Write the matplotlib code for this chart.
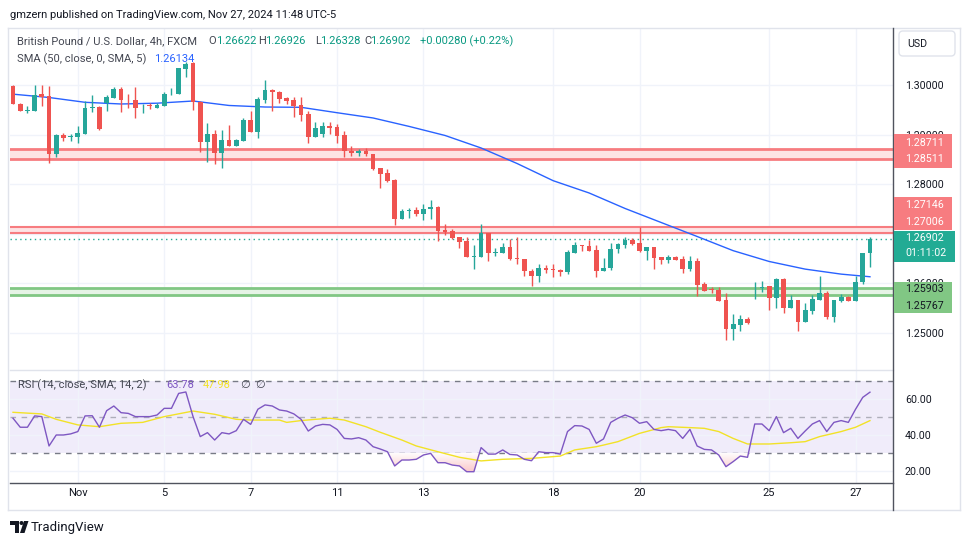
import numpy as np
import matplotlib
matplotlib.use("Agg")
import matplotlib.pyplot as plt
from matplotlib.patches import Rectangle, FancyBboxPatch, Circle, Polygon
from matplotlib.lines import Line2D
from matplotlib.path import Path
from matplotlib.colors import LinearSegmentedColormap
from matplotlib.transforms import Affine2D

plt.rcParams['font.family'] = ['Roboto', 'DejaVu Sans']

# GBP/USD 4h candles (FXCM)
opens = [1.2998, 1.2962, 1.2948, 1.2948, 1.2981, 1.2978, 1.2861, 1.2899, 1.2896, 1.2896,
         1.2902, 1.2953, 1.2956, 1.2964, 1.2973, 1.2991, 1.2972, 1.2970, 1.2959, 1.2959,
         1.2954, 1.2958, 1.2981, 1.2981, 1.3032, 1.3044, 1.2965, 1.2886, 1.2901, 1.2862,
         1.2889, 1.2878, 1.2887, 1.2929, 1.2906, 1.2970, 1.2990, 1.2986, 1.2974, 1.2970,
         1.2960, 1.2942, 1.2896, 1.2901, 1.2917, 1.2915, 1.2899, 1.2867, 1.2862, 1.2867,
         1.2860, 1.2832, 1.2822, 1.2808, 1.2730, 1.2746, 1.2748, 1.2740, 1.2749, 1.2755,
         1.2708, 1.2706, 1.2693, 1.2685, 1.2654, 1.2654, 1.2701, 1.2662, 1.2662, 1.2673,
         1.2652, 1.2649, 1.2625, 1.2614, 1.2632, 1.2629, 1.2627, 1.2622, 1.2662, 1.2677,
         1.2675, 1.2667, 1.2624, 1.2632, 1.2669, 1.2677, 1.2688, 1.2681, 1.2666, 1.2673,
         1.2653, 1.2647, 1.2653, 1.2649, 1.2629, 1.2645, 1.2598, 1.2588, 1.2587, 1.2567,
         1.2508, 1.2516, 1.2528, 1.2590, 1.2591, 1.2594, 1.2571, 1.2609, 1.2551, 1.2567,
         1.2523, 1.2545, 1.2567, 1.2580, 1.2533, 1.2565, 1.2572, 1.2565, 1.2602, 1.26622]
highs = [1.3000, 1.2963, 1.2958, 1.3000, 1.3000, 1.2998, 1.2901, 1.2903, 1.2901, 1.2918,
         1.2967, 1.2980, 1.2957, 1.2980, 1.2996, 1.2995, 1.2982, 1.2995, 1.2961, 1.2963,
         1.2963, 1.2986, 1.2993, 1.3035, 1.3047, 1.3047, 1.2968, 1.2924, 1.2909, 1.2909,
         1.2919, 1.2891, 1.2933, 1.2948, 1.2975, 1.3010, 1.2991, 1.2988, 1.2976, 1.2975,
         1.2976, 1.2948, 1.2925, 1.2926, 1.2925, 1.2921, 1.2907, 1.2877, 1.2870, 1.2872,
         1.2860, 1.2832, 1.2830, 1.2810, 1.2750, 1.2752, 1.2755, 1.2761, 1.2768, 1.2756,
         1.2720, 1.2709, 1.2694, 1.2694, 1.2677, 1.2720, 1.2702, 1.2671, 1.2681, 1.2689,
         1.2694, 1.2649, 1.2630, 1.2640, 1.2637, 1.2639, 1.2630, 1.2667, 1.2684, 1.2677,
         1.2688, 1.2677, 1.2651, 1.2681, 1.2682, 1.2694, 1.2691, 1.2714, 1.2673, 1.2673,
         1.2654, 1.2657, 1.2655, 1.2655, 1.2655, 1.2651, 1.2603, 1.2593, 1.2593, 1.2580,
         1.2538, 1.2536, 1.2532, 1.2603, 1.2605, 1.2594, 1.2610, 1.2610, 1.2577, 1.2567,
         1.2560, 1.2577, 1.2615, 1.2585, 1.2567, 1.2579, 1.2575, 1.2614, 1.2662, 1.26926]
lows = [1.2961, 1.2948, 1.2943, 1.2948, 1.2958, 1.2843, 1.2855, 1.2887, 1.2887, 1.2884,
        1.2902, 1.2945, 1.2909, 1.2948, 1.2973, 1.2946, 1.2953, 1.2934, 1.2943, 1.2952,
        1.2953, 1.2958, 1.2980, 1.2981, 1.3017, 1.2949, 1.2864, 1.2845, 1.2841, 1.2833,
        1.2878, 1.2878, 1.2887, 1.2906, 1.2893, 1.2964, 1.2948, 1.2964, 1.2962, 1.2936,
        1.2927, 1.2884, 1.2896, 1.2896, 1.2901, 1.2884, 1.2855, 1.2857, 1.2857, 1.2857,
        1.2829, 1.2793, 1.2805, 1.2718, 1.2730, 1.2731, 1.2736, 1.2728, 1.2730, 1.2686,
        1.2698, 1.2689, 1.2672, 1.2653, 1.2629, 1.2654, 1.2646, 1.2656, 1.2661, 1.2647,
        1.2639, 1.2614, 1.2595, 1.2603, 1.2620, 1.2612, 1.2614, 1.2618, 1.2662, 1.2665,
        1.2666, 1.2613, 1.2624, 1.2627, 1.2661, 1.2671, 1.2677, 1.2664, 1.2647, 1.2630,
        1.2640, 1.2642, 1.2647, 1.2620, 1.2624, 1.2575, 1.2585, 1.2580, 1.2565, 1.2486,
        1.2485, 1.2505, 1.2518, 1.2569, 1.2582, 1.2546, 1.2551, 1.2541, 1.2551, 1.2505,
        1.2523, 1.2538, 1.2567, 1.2528, 1.2523, 1.2563, 1.2565, 1.2565, 1.2598, 1.26328]
closes = [1.2961, 1.2948, 1.2950, 1.2980, 1.2976, 1.2861, 1.2899, 1.2894, 1.2897, 1.2904,
          1.2954, 1.2956, 1.2911, 1.2976, 1.2992, 1.2970, 1.2971, 1.2954, 1.2960, 1.2958,
          1.2960, 1.2982, 1.2982, 1.3034, 1.3043, 1.2965, 1.2886, 1.2901, 1.2862, 1.2889,
          1.2878, 1.2889, 1.2929, 1.2906, 1.2972, 1.2990, 1.2985, 1.2972, 1.2968, 1.2958,
          1.2940, 1.2896, 1.2913, 1.2917, 1.2914, 1.2898, 1.2866, 1.2862, 1.2867, 1.2860,
          1.2831, 1.2821, 1.2807, 1.2730, 1.2746, 1.2747, 1.2740, 1.2750, 1.2755, 1.2706,
          1.2704, 1.2692, 1.2684, 1.2654, 1.2655, 1.2701, 1.2662, 1.2664, 1.2673, 1.2649,
          1.2650, 1.2624, 1.2614, 1.2632, 1.2627, 1.2628, 1.2622, 1.2663, 1.2677, 1.2676,
          1.2666, 1.2624, 1.2632, 1.2669, 1.2679, 1.2688, 1.2679, 1.2666, 1.2673, 1.2652,
          1.2647, 1.2653, 1.2647, 1.2629, 1.2645, 1.2597, 1.2585, 1.2586, 1.2565, 1.2508,
          1.2518, 1.2528, 1.2520, 1.2591, 1.2592, 1.2571, 1.2609, 1.2551, 1.2567, 1.2523,
          1.2546, 1.2569, 1.2580, 1.2533, 1.2567, 1.2572, 1.2565, 1.2602, 1.26622, 1.26902]

# SMA(50) line sampled every 5 bars
sma_idx = [0, 5, 10, 15, 20, 25, 30, 35, 40, 45, 50, 55, 60, 65, 70, 75, 80, 85, 90, 95,
           100, 105, 110, 115, 119]
sma_val = [1.29815, 1.29748, 1.29651, 1.29617, 1.29633, 1.29677, 1.29587, 1.29556, 1.29550,
           1.29441, 1.29335, 1.29165, 1.28982, 1.28730, 1.28417, 1.28071, 1.27823, 1.27510,
           1.27228, 1.26946, 1.26660, 1.26442, 1.26288, 1.26187, 1.26134]

rsi = [49.3, 44.3, 44.3, 50.6, 50.2, 33.9, 40.0, 40.0, 40.6, 41.9,
       50.6, 50.7, 44.3, 53.5, 56.1, 52.4, 52.0, 50.2, 50.2, 50.2,
       51.1, 54.8, 54.8, 63.1, 63.9, 50.2, 39.1, 41.3, 37.2, 41.3,
       40.6, 42.4, 48.7, 45.9, 54.3, 56.7, 56.1, 53.9, 53.3, 51.7,
       48.7, 42.2, 45.0, 45.9, 45.6, 43.1, 38.1, 37.8, 38.5, 37.2,
       33.5, 32.2, 30.7, 22.8, 26.1, 26.1, 26.5, 28.9, 29.8, 24.6,
       24.6, 23.3, 22.8, 19.6, 19.6, 33.0, 29.4, 29.4, 31.7, 29.2,
       28.9, 26.5, 25.7, 30.7, 30.2, 30.2, 29.4, 41.9, 45.2, 45.0,
       43.1, 35.4, 37.8, 47.0, 49.3, 51.1, 49.6, 46.5, 47.4, 43.1,
       42.4, 43.1, 42.4, 38.1, 43.1, 33.9, 32.0, 31.7, 28.9, 22.4,
       25.2, 28.3, 27.6, 46.1, 46.1, 42.4, 50.2, 41.3, 43.7, 38.1,
       42.2, 46.1, 48.0, 41.9, 47.0, 48.0, 47.0, 54.3, 60.9, 63.78]
rsi_ma_idx = [0, 4, 6, 9, 12, 15, 18, 21, 25, 28, 31, 33, 37, 38, 40, 42, 44, 46, 49, 51,
              54, 56, 59, 62, 65, 68, 72, 76, 78, 81, 82, 84, 87, 90, 91, 94, 96, 98, 100,
              102, 105, 108, 110, 112, 115, 117, 119]
rsi_ma_val = [52.6, 51.7, 48.7, 45.6, 44.6, 46.5, 47.0, 50.2, 53.3, 51.5, 48.7, 48.3, 48.3,
              47.0, 48.0, 48.7, 49.3, 48.3, 44.6, 41.5, 37.2, 33.9, 30.7, 27.6, 25.6, 26.5,
              27.0, 28.3, 31.7, 33.5, 34.4, 36.3, 40.9, 44.1, 44.6, 44.1, 43.7, 41.9, 38.1,
              35.0, 35.0, 35.7, 36.3, 39.1, 41.9, 44.3, 47.98]

day_idx = [9, 21, 33, 45, 57, 75, 87, 105, 117]
day_labels = ['Nov', '5', '7', '11', '13', '18', '20', '25', '27']
price_ticks = [1.25, 1.26, 1.27, 1.28, 1.29, 1.30]
rsi_ticks = [20, 40, 60]

red_zone_top = [1.28511, 1.28711]
red_zone_mid = [1.27006, 1.27146]
green_zone = [1.25767, 1.25903]
last_price = 1.26902
countdown = '01:11:02'

GREEN = '#26a69a'
RED = '#ef5350'
TXT = '#131722'
GREY = '#50535e'

W, H = 970, 545
fig = plt.figure(figsize=(W / 100, H / 100), dpi=100)
fig.patch.set_facecolor('white')
T = Affine2D().scale(1 / W, -1 / H).translate(0, 1) + fig.transFigure  # pixel coords, top-left origin

ax = fig.add_axes([10 / W, 1 - 370 / H, 883 / W, 342 / H])
axr = fig.add_axes([10 / W, 1 - 483 / H, 883 / W, 113 / H])

o = np.array(opens); h = np.array(highs); l = np.array(lows); c = np.array(closes)
x = np.arange(len(o))
cols = np.where(c >= o, GREEN, RED)

# zones
for (lo, hi), lc, fc, lw in [(red_zone_top, '#f77c80', '#fde3e4', 2.0),
                             (red_zone_mid, '#f77c80', '#fde3e4', 1.5),
                             (green_zone, '#81c784', '#e6f4e6', 2.0)]:
    ax.axhspan(lo, hi, color=fc, lw=0, zorder=1)
    ax.axhline(lo, color=lc, lw=lw, zorder=2)
    ax.axhline(hi, color=lc, lw=lw, zorder=2)
ax.axhline(last_price, color='#22ab94', lw=1, ls=(0, (1, 2.5)), zorder=2)

ax.plot(sma_idx, sma_val, color='#2962ff', lw=1.0, zorder=2.5)

ax.vlines(x, l, h, colors=cols, lw=1, zorder=3)
ax.bar(x, np.maximum(np.abs(c - o), 0.00012), bottom=np.minimum(o, c), width=0.66,
       color=cols, lw=0, zorder=4)

xlim = (-0.42, 122.2)
ax.set_xlim(*xlim)
ax.set_ylim(1.24254, 1.31149)
ax.set_xticks(day_idx)
ax.set_yticks(price_ticks)
# 1.27000 sits fully under the price labels, so it is left blank
ax.set_yticklabels(['' if p == 1.27 else f'{p:.5f}' for p in price_ticks])
ax.yaxis.tick_right()
ax.tick_params(axis='x', labelbottom=False, length=0)
ax.tick_params(axis='y', length=0, pad=8.6, labelsize=7.7, labelcolor=TXT)
ax.grid(True, color='#f0f3fa', lw=1)
ax.set_axisbelow(True)
for s in ax.spines.values():
    s.set_visible(False)

# RSI panel
r = np.array(rsi)
axr.axhspan(30, 70, color='#f0ecfa', lw=0, zorder=0.5)
for lev, a in [(70, 1), (50, 0.55), (30, 1)]:
    axr.axhline(lev, color='#787b86', lw=1, ls=(0, (4, 4)), alpha=a, zorder=1)
low_fill = axr.fill_between(x, r, 30, where=r < 30, interpolate=True,
                            facecolor='none', edgecolor='none')
cmap = LinearSegmentedColormap.from_list('rsi_low', ['#f7a9ab', '#ffffff'])
grad = axr.imshow(np.linspace(0, 1, 64).reshape(-1, 1), cmap=cmap, origin='lower',
                  extent=[xlim[0], xlim[1], 13.33, 30], aspect='auto', zorder=1.5)
grad.set_clip_path(Path.make_compound_path(*low_fill.get_paths()), axr.transData)
axr.plot(rsi_ma_idx, rsi_ma_val, color='#f2e227', lw=1, zorder=2)
axr.plot(x, r, color='#7e57c2', lw=1, zorder=3)
axr.set_xlim(*xlim)
axr.set_ylim(13.33, 76.1)
axr.set_xticks(day_idx)
axr.set_xticklabels(day_labels)
axr.set_yticks(rsi_ticks)
axr.set_yticklabels([f'{v:.2f}' for v in rsi_ticks])
axr.yaxis.tick_right()
axr.tick_params(axis='x', length=0, pad=3.5, labelsize=8, labelcolor=TXT)
axr.tick_params(axis='y', length=0, pad=8.6, labelsize=7.7, labelcolor=TXT)
axr.grid(True, color='#f0f3fa', lw=1)
axr.set_axisbelow(True)
for s in axr.spines.values():
    s.set_visible(False)


def line(xs, ys, color, lw=1, z=9):
    fig.add_artist(Line2D(xs, ys, transform=T, color=color, lw=lw, zorder=z))


def box(x0, y0, x1, y1, color):
    fig.add_artist(Rectangle((x0, y0), x1 - x0, y1 - y0, transform=T, facecolor=color,
                             edgecolor='none', zorder=10))


def txt(xp, yp, s, color=TXT, size=7.7, **kw):
    fig.text(xp, yp, s, transform=T, color=color, fontsize=size, va='center',
             ha=kw.pop('ha', 'left'), zorder=11, **kw)


# frame
line([8, 960], [28, 28], '#e0e3eb')
line([8, 960], [510, 510], '#e0e3eb')
line([8, 8], [28, 510], '#e0e3eb')
line([960, 960], [28, 510], '#e0e3eb')
line([10, 893], [370, 370], '#e0e3eb')
line([10, 893], [483, 483], GREY)
line([893, 893], [28, 510], GREY)

# price scale labels
box(894, 134.3, 952, 167.7, '#f77c80')
txt(905, 142.7, f'{red_zone_top[1]:.5f}', 'white')
txt(905, 159.3, f'{red_zone_top[0]:.5f}', 'white')
box(894, 196.7, 952, 230, '#f77c80')
txt(905, 205, f'{red_zone_mid[1]:.5f}', 'white')
txt(905, 221.7, f'{red_zone_mid[0]:.5f}', 'white')
box(894, 230.7, 955, 261.7, '#22ab94')
txt(905, 238.3, f'{last_price:.5f}', 'white')
txt(905, 253.3, countdown, 'white')
box(894, 282, 952, 313.3, '#81c784')
txt(905, 289.3, f'{green_zone[1]:.5f}', TXT)
txt(905, 305.7, f'{green_zone[0]:.5f}', TXT)

fig.add_artist(FancyBboxPatch((899, 31), 56, 25, boxstyle='round,pad=0,rounding_size=4',
                              transform=T, facecolor='white', edgecolor='#e0e3eb',
                              lw=1, zorder=10))
txt(907, 44, 'USD')

# header and legends
txt(10, 15, 'gmzern published on TradingView.com, Nov 27, 2024 11:48 UTC-5', size=8.0)
LEG = '#434651'
VAL = '#089981'
txt(17, 41, 'British Pound / U.S. Dollar, 4h, FXCM', LEG, size=8)
for lx, letter, vx, val in [(208, 'O', 216, opens[-1]), (258, 'H', 265, highs[-1]),
                            (315, 'L', 320, lows[-1]), (364, 'C', 370, closes[-1])]:
    txt(lx, 41, letter, LEG, size=8)
    txt(vx, 41, f'{val:.5f}', VAL, size=8)
chg = closes[-1] - opens[-1]
txt(420, 41, f'+{chg:.5f} (+{chg / opens[-1] * 100:.2f}%)', VAL, size=8)
txt(17, 59, 'SMA (50, close, 0, SMA, 5)', LEG, size=8)
txt(154, 59, f'{sma_val[-1]:.5f}', '#2962ff', size=8)

txt(18, 385, 'RSI (14, close, SMA, 14, 2)', LEG, size=8)
txt(166, 385, f'{rsi[-1]:.2f}', '#7e57c2', size=8)
txt(203, 385, f'{rsi_ma_val[-1]:.2f}', '#f2e227', size=8)
txt(240, 385, '∅', LEG, size=8, family=['DejaVu Sans'])
txt(255, 385, '∅', LEG, size=8, family=['DejaVu Sans'])

# TradingView logo
fig.add_artist(Polygon([(10, 521), (19, 521), (19, 533), (15, 533), (15, 525), (10, 525)],
                       closed=True, transform=T, facecolor=TXT, edgecolor='none', zorder=10))
fig.add_artist(Circle((21.5, 523), 2, transform=T, facecolor=TXT, edgecolor='none', zorder=10))
fig.add_artist(Polygon([(24, 521), (28.5, 521), (24.5, 533), (20, 533)], closed=True,
                       transform=T, facecolor=TXT, edgecolor='none', zorder=10))
txt(31, 527, 'TradingView', TXT, size=9.5)

fig.savefig('out.png', dpi=100)
